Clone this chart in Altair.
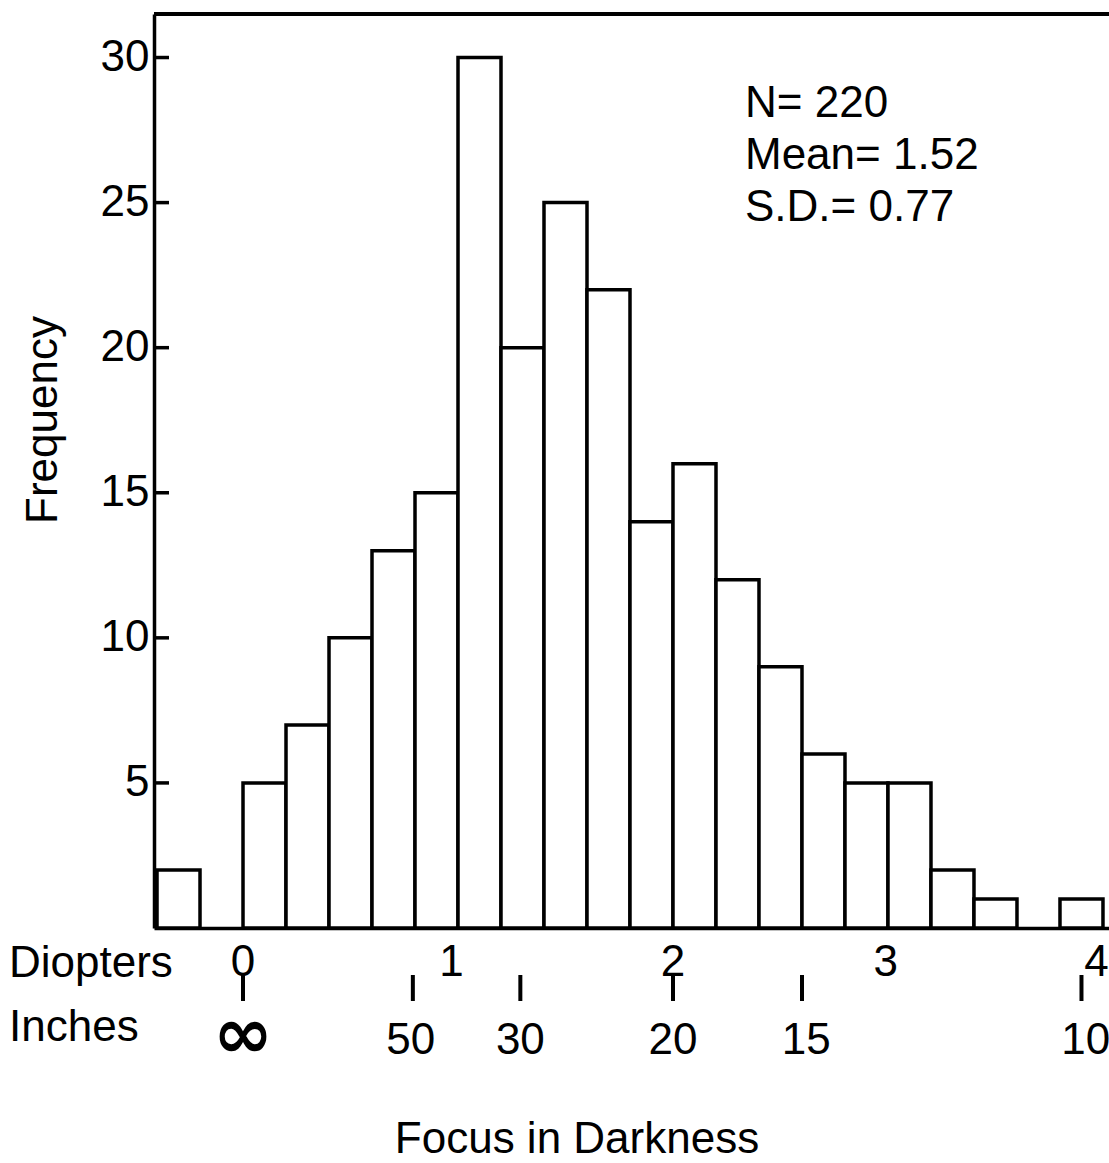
import altair as alt
import pandas as pd

# ---- data ----
bin_starts = [-0.4, -0.2, 0.0, 0.2, 0.4, 0.6, 0.8, 1.0, 1.2, 1.4, 1.6, 1.8,
              2.0, 2.2, 2.4, 2.6, 2.8, 3.0, 3.2, 3.4, 3.6, 3.8]
counts = [2, 0, 5, 7, 10, 13, 15, 30, 20, 25, 22, 14,
          16, 12, 9, 6, 5, 5, 2, 1, 0, 1]
bin_width = 0.2

y_ticks = [5, 10, 15, 20, 25, 30]

diopter_label_pos = [0.0, 0.97, 2.0, 2.99, 3.97]
diopter_labels = ["0", "1", "2", "3", "4"]

inch_positions = [0.78, 1.29, 2.0, 2.62, 3.92]   # in diopters
inch_labels = ["50", "30", "20", "15", "10"]
inch_tick_positions = [0.0, 0.79, 1.29, 2.0, 2.6, 3.9]

stats_lines = ["N= 220", "Mean= 1.52", "S.D.= 0.77"]

# ---- layout ----
W, H = 955, 914
PAD_L, PAD_T = 154, 14
FONT = "Liberation Sans"
FS = 44
LW = 3.5

bars_df = pd.DataFrame({
    "start": bin_starts,
    "end": [b + bin_width for b in bin_starts],
    "count": counts,
})

xscale = alt.Scale(domain=[-0.414, 4.028], nice=False, zero=False)
yscale = alt.Scale(domain=[0, 31.5], nice=False)

bars = alt.Chart(bars_df).transform_filter("datum.count > 0").mark_rect(
    fill="white", stroke="black", strokeWidth=LW, strokeJoin="miter"
).encode(
    x=alt.X("start:Q", scale=xscale,
            axis=alt.Axis(labels=False, ticks=False, grid=False, title=None,
                          domainColor="black", domainWidth=LW)),
    x2="end:Q",
    y=alt.Y("count:Q", scale=yscale,
            axis=alt.Axis(values=y_ticks, ticks=False, grid=False, title=None,
                          labelFont=FONT, labelFontSize=FS, labelColor="black",
                          labelPadding=5, domainColor="black", domainWidth=LW)),
    y2=alt.datum(0),
)

ytick_df = pd.DataFrame({"v": y_ticks})
yticks = alt.Chart(ytick_df).mark_rule(color="black", strokeWidth=LW).encode(
    y=alt.Y("v:Q", scale=yscale),
    x=alt.value(0), x2=alt.value(15),
)

top_line = alt.Chart(ytick_df).mark_rule(color="black", strokeWidth=LW).encode(
    x=alt.value(0), x2=alt.value(W), y=alt.value(0)
)

dio_df = pd.DataFrame({"d": diopter_label_pos, "lab": diopter_labels})
dio_text = alt.Chart(dio_df).mark_text(
    font=FONT, fontSize=FS, color="black", baseline="alphabetic", align="center"
).encode(x=alt.X("d:Q", scale=xscale), y=alt.value(962), text="lab:N")

inch_df = pd.DataFrame({"d": inch_positions, "lab": inch_labels})
inch_text = alt.Chart(inch_df).mark_text(
    font=FONT, fontSize=FS, color="black", baseline="alphabetic", align="center"
).encode(x=alt.X("d:Q", scale=xscale), y=alt.value(1040), text="lab:N")

inch_tick_df = pd.DataFrame({"d": inch_tick_positions})
inch_ticks = alt.Chart(inch_tick_df).mark_rule(color="black", strokeWidth=4).encode(
    x=alt.X("d:Q", scale=xscale), y=alt.value(961), y2=alt.value(987)
)

inf_df = pd.DataFrame({"d": [0.0], "lab": ["∞"]})
inf_text = alt.Chart(inf_df).mark_text(
    font="DejaVu Sans", fontSize=72, fontWeight="bold", color="black",
    baseline="middle", align="center"
).encode(x=alt.X("d:Q", scale=xscale), y=alt.value(1022), text="lab:N")

row_df = pd.DataFrame({"lab": ["Diopters", "Inches"]})
dio_row = alt.Chart(row_df).transform_filter("datum.lab == 'Diopters'").mark_text(
    font=FONT, fontSize=FS, color="black", baseline="alphabetic", align="left"
).encode(x=alt.value(-145), y=alt.value(963), text="lab:N")
inch_row = alt.Chart(row_df).transform_filter("datum.lab == 'Inches'").mark_text(
    font=FONT, fontSize=FS, color="black", baseline="alphabetic", align="left"
).encode(x=alt.value(-145), y=alt.value(1027), text="lab:N")

titles_df = pd.DataFrame({"lab": ["Focus in Darkness", "Frequency"]})
x_title = alt.Chart(titles_df).transform_filter("datum.lab == 'Focus in Darkness'").mark_text(
    font=FONT, fontSize=FS, color="black", baseline="alphabetic", align="center"
).encode(x=alt.value(423), y=alt.value(1139), text="lab:N")
y_title = alt.Chart(titles_df).transform_filter("datum.lab == 'Frequency'").mark_text(
    font=FONT, fontSize=FS, color="black", baseline="middle", align="center", angle=270
).encode(x=alt.value(-110), y=alt.value(406), text="lab:N")

stats_df = pd.DataFrame({"lab": stats_lines, "i": list(range(len(stats_lines)))})
stats_layers = []
for i, s in enumerate(stats_lines):
    stats_layers.append(
        alt.Chart(stats_df).transform_filter(f"datum.i == {i}").mark_text(
            font=FONT, fontSize=FS, color="black", baseline="alphabetic", align="left"
        ).encode(x=alt.value(591), y=alt.value(103 + i * 52), text="lab:N")
    )

chart = alt.layer(
    bars, yticks, top_line, dio_text, inch_text, inch_ticks, inf_text,
    dio_row, inch_row, x_title, y_title, *stats_layers
).properties(
    width=W, height=H,
    autosize=alt.AutoSizeParams(type="none"),
    padding={"left": PAD_L, "top": PAD_T, "right": 0, "bottom": 235},
    background="white",
).configure_view(stroke=None)

chart.save("out.html", embed_options={"renderer": "svg", "actions": False})
